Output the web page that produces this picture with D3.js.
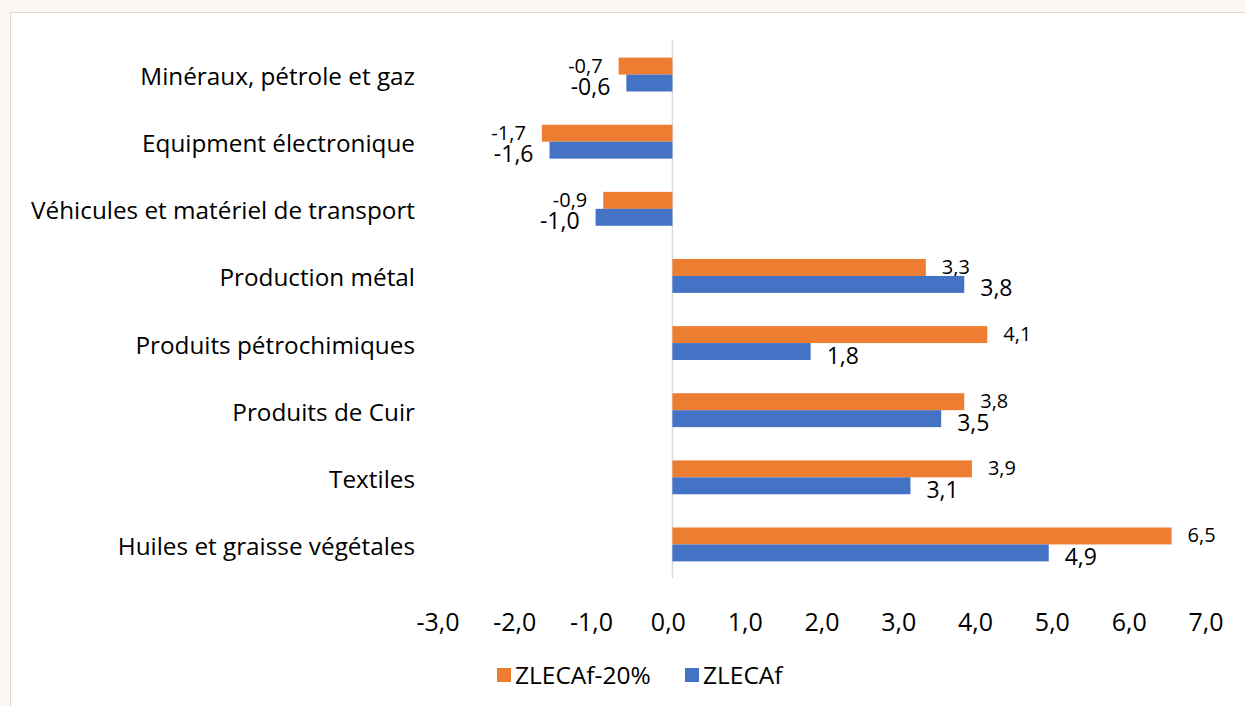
<!DOCTYPE html>
<html>
<head>
<meta charset="utf-8">
<script src="https://cdn.jsdelivr.net/npm/d3@7"></script>
<style>
  html, body { margin: 0; padding: 0; background: #fdf7f3; }
  svg { display: block; }
</style>
</head>
<body>
<div id="chart"></div>
<script>
// categories, top to bottom
var categories = [
  "Minéraux, pétrole et gaz",
  "Equipment électronique",
  "Véhicules et matériel de transport",
  "Production métal",
  "Produits pétrochimiques",
  "Produits de Cuir",
  "Textiles",
  "Huiles et graisse végétales"
];
var seriesNames = ["ZLECAf-20%", "ZLECAf"];
var zlecaf20 = [-0.7, -1.7, -0.9, 3.3, 4.1, 3.8, 3.9, 6.5];
var zlecaf = [-0.6, -1.6, -1.0, 3.8, 1.8, 3.5, 3.1, 4.9];
var xTicks = [-3, -2, -1, 0, 1, 2, 3, 4, 5, 6, 7];
var colors = ["#ED7D31", "#4472C4"];

var W = 1245, H = 706;
var font = "'Open Sans', sans-serif";
var svg = d3.select("#chart").append("svg")
  .attr("width", W).attr("height", H);

// chart panel
svg.append("rect")
  .attr("x", 10.5).attr("y", 12.5)
  .attr("width", W + 10).attr("height", H + 10)
  .attr("fill", "#ffffff")
  .attr("stroke", "#d9d9d9");

var x = d3.scaleLinear().domain([-3, 7]).range([442, 1210]);
var y = d3.scaleBand().domain(categories).range([41, 578]);
var inner = d3.scaleBand().domain(seriesNames)
  .range([0, y.bandwidth()]).paddingOuter(0.98);

var fmt = function(v) { return d3.format(".1f")(v).replace(".", ",").replace("−", "-"); };

// zero axis line
svg.append("line")
  .attr("x1", x(0)).attr("x2", x(0))
  .attr("y1", 40).attr("y2", 578)
  .attr("stroke", "#d9d9d9").attr("stroke-width", 1.5);

var series = [zlecaf20, zlecaf];
series.forEach(function(vals, s) {
  var g = svg.append("g");
  g.selectAll("rect").data(vals).enter().append("rect")
    .attr("x", function(d) { return x(Math.min(0, d)); })
    .attr("y", function(d, i) { return y(categories[i]) + inner(seriesNames[s]); })
    .attr("width", function(d) { return Math.abs(x(d) - x(0)); })
    .attr("height", inner.bandwidth())
    .attr("fill", colors[s]);

  g.selectAll("text").data(vals).enter().append("text")
    .attr("x", function(d) { return d < 0 ? x(d) - 16 : x(d) + 16; })
    .attr("y", function(d, i) {
      return y(categories[i]) + inner(seriesNames[s]) + inner.bandwidth() / 2 + (s === 0 ? -1 : 3);
    })
    .attr("text-anchor", function(d) { return d < 0 ? "end" : "start"; })
    .attr("dominant-baseline", "central")
    .attr("font-family", font)
    .attr("font-size", s === 0 ? 20 : 23)
    .attr("fill", "#000")
    .text(function(d) { return fmt(d); });
});

// category labels
svg.append("g").selectAll("text").data(categories).enter().append("text")
  .attr("x", 415)
  .attr("y", function(d) { return y(d) + y.bandwidth() / 2 + 1; })
  .attr("text-anchor", "end")
  .attr("dominant-baseline", "central")
  .attr("font-family", font)
  .attr("font-size", 24.3)
  .attr("fill", "#000")
  .text(function(d) { return d; });

// x tick labels
svg.append("g").selectAll("text").data(xTicks).enter().append("text")
  .attr("x", function(d) { return x(d) - 4; })
  .attr("y", 621)
  .attr("text-anchor", "middle")
  .attr("dominant-baseline", "central")
  .attr("font-family", font)
  .attr("font-size", 25)
  .attr("fill", "#000")
  .text(function(d) { return fmt(d); });

// legend
var legendX = [497, 685];
var legend = svg.append("g");
seriesNames.forEach(function(name, i) {
  legend.append("rect")
    .attr("x", legendX[i]).attr("y", 668)
    .attr("width", 14).attr("height", 14)
    .attr("fill", colors[i]);
  legend.append("text")
    .attr("x", legendX[i] + 18).attr("y", 674)
    .attr("dominant-baseline", "central")
    .attr("font-family", font)
    .attr("font-size", 24.5)
    .attr("fill", "#000")
    .text(name);
});
</script>
</body>
</html>
